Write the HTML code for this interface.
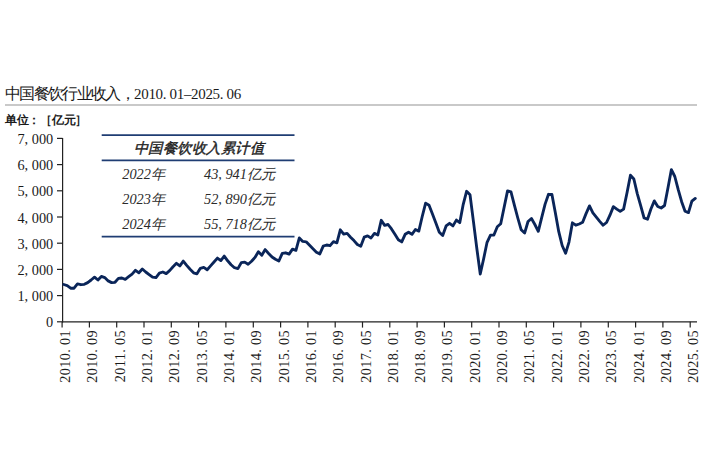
<!DOCTYPE html>
<html><head><meta charset="utf-8"><style>
html,body{margin:0;padding:0;background:#fff;width:718px;height:464px;overflow:hidden;position:relative}
.t{position:absolute;white-space:nowrap;font-family:"Liberation Serif",serif;color:#1a1a1a}
#title{left:5px;top:83.5px;font-size:15px;letter-spacing:-0.33px}
.cj{font-size:16px;letter-spacing:-1.66px;position:relative;top:0.5px}
#unit{left:5px;top:111.5px;font-size:12px;letter-spacing:-0.3px;font-weight:bold}
.yl{position:absolute;right:664.8px;font-family:"Liberation Serif",serif;font-size:14.3px;line-height:18px;color:#1a1a1a;white-space:nowrap}
.xl{position:absolute;top:327px;width:60px;height:18px;font-family:"Liberation Serif",serif;font-size:14.3px;line-height:18px;color:#1a1a1a;white-space:nowrap;transform-origin:30px 9px;transform:translateY(24px) rotate(-90deg);text-align:right;letter-spacing:0.35px}
.it{position:absolute;font-family:"Liberation Serif",serif;font-style:italic;font-size:14.3px;color:#2a2a2a;white-space:nowrap}
svg{position:absolute;left:0;top:0}
</style></head><body>
<svg width="718" height="464" viewBox="0 0 718 464">
<rect x="5" y="104" width="692" height="2" fill="#c9c9c9"/>
<g stroke="#1f3d73" stroke-width="1.8">
<line x1="101.7" y1="135.2" x2="294.5" y2="135.2"/>
<line x1="101.7" y1="160.4" x2="294.5" y2="160.4"/>
<line x1="101.7" y1="236.6" x2="294.5" y2="236.6"/>
</g>
<g stroke="#222" stroke-width="1.2">
<line x1="62.6" y1="138" x2="62.6" y2="322.4"/>
<line x1="62" y1="321.8" x2="697" y2="321.8"/>
<line x1="57" y1="321.8" x2="62.6" y2="321.8"/><line x1="57" y1="295.6" x2="62.6" y2="295.6"/><line x1="57" y1="269.4" x2="62.6" y2="269.4"/><line x1="57" y1="243.2" x2="62.6" y2="243.2"/><line x1="57" y1="217.0" x2="62.6" y2="217.0"/><line x1="57" y1="190.8" x2="62.6" y2="190.8"/><line x1="57" y1="164.6" x2="62.6" y2="164.6"/><line x1="57" y1="138.4" x2="62.6" y2="138.4"/>
<line x1="62.1" y1="321.8" x2="62.1" y2="327.6"/><line x1="89.4" y1="321.8" x2="89.4" y2="327.6"/><line x1="116.7" y1="321.8" x2="116.7" y2="327.6"/><line x1="144.0" y1="321.8" x2="144.0" y2="327.6"/><line x1="171.3" y1="321.8" x2="171.3" y2="327.6"/><line x1="198.6" y1="321.8" x2="198.6" y2="327.6"/><line x1="225.9" y1="321.8" x2="225.9" y2="327.6"/><line x1="253.3" y1="321.8" x2="253.3" y2="327.6"/><line x1="280.6" y1="321.8" x2="280.6" y2="327.6"/><line x1="307.9" y1="321.8" x2="307.9" y2="327.6"/><line x1="335.2" y1="321.8" x2="335.2" y2="327.6"/><line x1="362.5" y1="321.8" x2="362.5" y2="327.6"/><line x1="389.8" y1="321.8" x2="389.8" y2="327.6"/><line x1="417.1" y1="321.8" x2="417.1" y2="327.6"/><line x1="444.4" y1="321.8" x2="444.4" y2="327.6"/><line x1="471.7" y1="321.8" x2="471.7" y2="327.6"/><line x1="499.0" y1="321.8" x2="499.0" y2="327.6"/><line x1="526.3" y1="321.8" x2="526.3" y2="327.6"/><line x1="553.6" y1="321.8" x2="553.6" y2="327.6"/><line x1="580.9" y1="321.8" x2="580.9" y2="327.6"/><line x1="608.3" y1="321.8" x2="608.3" y2="327.6"/><line x1="635.6" y1="321.8" x2="635.6" y2="327.6"/><line x1="662.9" y1="321.8" x2="662.9" y2="327.6"/><line x1="690.2" y1="321.8" x2="690.2" y2="327.6"/>
</g>
<polyline fill="none" stroke="#0a2559" stroke-width="2.85" stroke-linejoin="round" stroke-linecap="round" points="63.81,284.5 67.22,285.6 70.63,288.2 74.05,288.2 77.46,283.9 80.87,284.7 84.29,284.3 87.70,282.6 91.11,280.0 94.53,277.2 97.94,280.0 101.35,276.4 104.77,277.6 108.18,280.9 111.59,282.6 115.01,282.3 118.42,278.4 121.84,278.0 125.25,279.3 128.66,276.7 132.08,274.1 135.49,270.3 138.90,272.8 142.32,269.0 145.73,272.0 149.14,274.6 152.56,277.2 155.97,277.6 159.38,273.1 162.80,272.0 166.21,273.6 169.62,270.6 173.04,266.7 176.45,263.3 179.86,265.9 183.28,261.1 186.69,265.4 190.10,269.3 193.52,272.8 196.93,273.8 200.34,268.3 203.76,267.4 207.17,269.7 210.58,265.9 214.00,262.0 217.41,258.1 220.82,260.6 224.24,256.1 227.65,260.8 231.07,264.7 234.48,267.7 237.89,268.6 241.31,262.6 244.72,262.1 248.13,264.3 251.55,261.3 254.96,257.4 258.37,251.8 261.79,255.2 265.20,249.6 268.61,253.5 272.03,257.0 275.44,259.2 278.85,261.0 282.27,253.4 285.68,252.8 289.09,254.1 292.51,249.1 295.92,250.4 299.33,237.9 302.75,241.4 306.16,241.8 309.57,245.3 312.99,248.7 316.40,252.2 319.81,253.9 323.23,246.1 326.64,245.0 330.06,245.7 333.47,241.6 336.88,242.8 340.30,229.8 343.71,234.1 347.12,233.4 350.54,237.2 353.95,240.6 357.36,244.5 360.78,246.2 364.19,237.2 367.60,235.9 371.02,238.0 374.43,233.4 377.84,235.0 381.26,220.3 384.67,225.4 388.08,224.5 391.50,228.9 394.91,234.3 398.32,239.7 401.74,241.9 405.15,234.3 408.56,232.2 411.98,234.3 415.39,229.5 418.80,231.1 422.22,216.5 425.63,203.1 429.04,205.2 432.46,213.9 435.87,223.0 439.29,232.2 442.70,235.5 446.11,225.9 449.53,223.3 452.94,225.9 456.35,220.1 459.77,222.7 463.18,204.6 466.59,191.3 470.01,194.8 473.42,221.4 476.83,248.5 480.25,274.0 483.66,258.7 487.07,242.3 490.49,235.2 493.90,235.0 497.31,226.8 500.73,223.7 504.14,207.3 507.55,190.9 510.97,191.8 514.38,205.2 517.79,218.0 521.21,229.8 524.62,233.1 528.03,221.5 531.45,218.5 534.86,224.5 538.27,231.3 541.69,217.7 545.10,204.1 548.52,194.3 551.93,194.5 555.34,212.8 558.76,231.7 562.17,245.5 565.58,253.3 569.00,242.1 572.41,222.8 575.82,225.2 579.24,224.0 582.65,222.2 586.06,213.6 589.48,205.9 592.89,212.8 596.30,217.1 599.72,221.4 603.13,225.2 606.54,222.5 609.96,215.2 613.37,206.6 616.78,209.1 620.20,211.4 623.61,209.1 627.02,192.8 630.44,175.2 633.85,179.0 637.26,193.6 640.68,205.7 644.09,218.0 647.51,219.2 650.92,209.0 654.33,200.9 657.75,206.5 661.16,208.0 664.57,205.5 667.99,187.7 671.40,169.6 674.81,176.5 678.23,189.7 681.64,201.7 685.05,211.2 688.47,212.6 691.88,201.2 695.29,198.4"/>
</svg>
<div class="t" id="title"><span class="cj">中国餐饮行业收入，</span>2010.&#160;01–2025.&#160;06</div>
<div class="t" id="unit">单位：［亿元］</div>
<div class="yl" style="top:313.3px">0</div><div class="yl" style="top:287.1px">1, 000</div><div class="yl" style="top:260.9px">2, 000</div><div class="yl" style="top:234.7px">3, 000</div><div class="yl" style="top:208.5px">4, 000</div><div class="yl" style="top:182.3px">5, 000</div><div class="yl" style="top:156.1px">6, 000</div><div class="yl" style="top:129.9px">7, 000</div>
<div class="xl" style="left:35.1px">2010. 01</div><div class="xl" style="left:62.4px">2010. 09</div><div class="xl" style="left:89.7px">2011. 05</div><div class="xl" style="left:117.0px">2012. 01</div><div class="xl" style="left:144.3px">2012. 09</div><div class="xl" style="left:171.6px">2013. 05</div><div class="xl" style="left:198.9px">2014. 01</div><div class="xl" style="left:226.3px">2014. 09</div><div class="xl" style="left:253.6px">2015. 05</div><div class="xl" style="left:280.9px">2016. 01</div><div class="xl" style="left:308.2px">2016. 09</div><div class="xl" style="left:335.5px">2017. 05</div><div class="xl" style="left:362.8px">2018. 01</div><div class="xl" style="left:390.1px">2018. 09</div><div class="xl" style="left:417.4px">2019. 05</div><div class="xl" style="left:444.7px">2020. 01</div><div class="xl" style="left:472.0px">2020. 09</div><div class="xl" style="left:499.3px">2021. 05</div><div class="xl" style="left:526.6px">2022. 01</div><div class="xl" style="left:553.9px">2022. 09</div><div class="xl" style="left:581.3px">2023. 05</div><div class="xl" style="left:608.6px">2024. 01</div><div class="xl" style="left:635.9px">2024. 09</div><div class="xl" style="left:663.2px">2025. 05</div>
<div class="it" style="left:134px;top:139px;letter-spacing:0.45px;font-weight:normal;-webkit-text-stroke:0.4px #1a1a1a;font-size:14.36px">中国餐饮收入累计值</div>
<div class="it" style="left:122.3px;top:164.5px">2022年</div>
<div class="it" style="left:204px;top:164.5px">43,&#160;941亿元</div>
<div class="it" style="left:122.3px;top:189.5px">2023年</div>
<div class="it" style="left:204px;top:189.5px">52,&#160;890亿元</div>
<div class="it" style="left:122.3px;top:214.5px">2024年</div>
<div class="it" style="left:204px;top:214.5px">55,&#160;718亿元</div>
</body></html>
